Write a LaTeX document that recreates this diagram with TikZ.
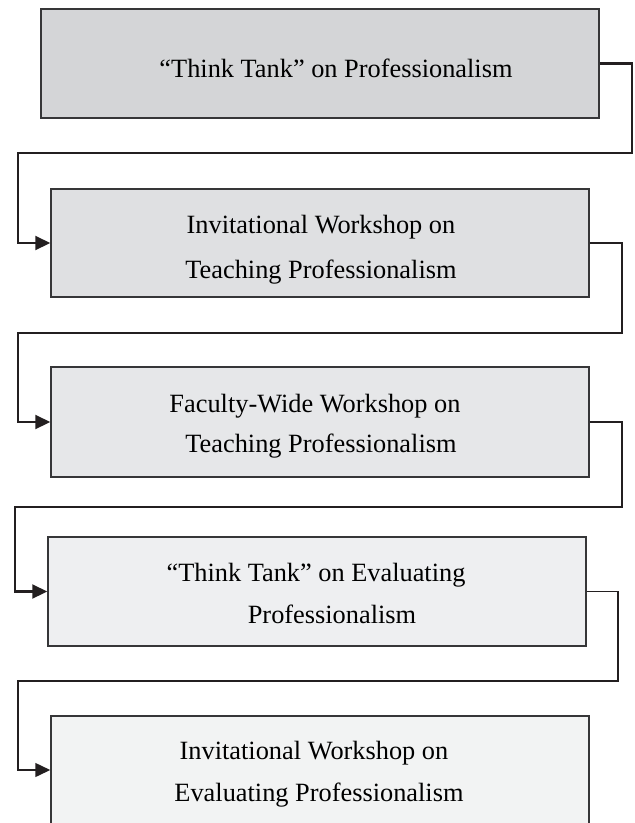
\documentclass[tikz,border=0pt]{standalone}
\usepackage{fontspec}
\setmainfont{Liberation Serif}
\usetikzlibrary{arrows.meta}

\definecolor{inkline}{HTML}{231F20}
\definecolor{boxedge}{HTML}{363638}
\definecolor{fillA}{HTML}{D4D5D7}
\definecolor{fillB}{HTML}{DFE0E2}
\definecolor{fillC}{HTML}{E6E7E9}
\definecolor{fillD}{HTML}{EEEFF1}
\definecolor{fillE}{HTML}{F2F3F3}

\tikzset{
  stagebox/.style={draw=boxedge, line width=1.5pt, rectangle, inner sep=0pt},
  linetext/.style={anchor=base, inner sep=0pt, text=black,
    font=\fontsize{26.35}{30}\selectfont},
  link/.style={draw=inkline, line width=2.2pt, line join=miter,
    -{Triangle[length=15pt,width=14pt]}},
  thinlink/.style={link, line width=1.5pt},
}

\begin{document}
\begin{tikzpicture}[x=1pt,y=-1pt]
  \useasboundingbox (0,0) rectangle (635,823);
  \clip (0,0) rectangle (635,823);

  % stage boxes
  \node[stagebox, fill=fillA, minimum width=558pt, minimum height=109pt] (b1) at (320,63.5) {};
  \node[stagebox, fill=fillB, minimum width=538pt, minimum height=108pt] (b2) at (320,243) {};
  \node[stagebox, fill=fillC, minimum width=538pt, minimum height=110pt] (b3) at (320,422) {};
  \node[stagebox, fill=fillD, minimum width=538pt, minimum height=109pt] (b4) at (317,591.5) {};
  \node[stagebox, fill=fillE, minimum width=538pt, minimum height=108pt] (b5) at (320,770) {};

  % box captions, one node per printed line
  \node[linetext] (t1)  at (336,77)  {“Think Tank” on Professionalism};
  \node[linetext] (t2a) at (321,233) {Invitational Workshop on};
  \node[linetext] (t2b) at (321,278) {Teaching Professionalism};
  \node[linetext] (t3a) at (315,412) {Faculty-Wide Workshop on};
  \node[linetext] (t3b) at (321,452) {Teaching Professionalism};
  \node[linetext] (t4a) at (316,581) {“Think Tank” on Evaluating};
  \node[linetext] (t4b) at (332,623) {Professionalism};
  \node[linetext] (t5a) at (314,759) {Invitational Workshop on};
  \node[linetext] (t5b) at (319,801) {Evaluating Professionalism};

  % bends of the connectors
  \coordinate (r1) at (632,0);  \coordinate (l1) at (18,0);
  \coordinate (r2) at (622,0);  \coordinate (l2) at (18,0);
  \coordinate (r3) at (622,0);  \coordinate (l3) at (15,0);
  \coordinate (r4) at (618,0);  \coordinate (l4) at (18,0);

  % connectors: out of the right side, back along the left, into the next box
  \draw[link] (b1.east) -| (r1 |- 0,153) -| (l1 |- b2.west) -- (b2.west);
  \draw[link] (b2.east) -| (r2 |- 0,333) -| (l2 |- b3.west) -- (b3.west);
  \draw[link] (b3.east) -| (r3 |- 0,507) -| (l3 |- b4.west) -- (b4.west);
  \draw[thinlink] (b4.east) -| (r4 |- 0,681) -| (l4 |- b5.west) -- (b5.west);
\end{tikzpicture}
\end{document}
